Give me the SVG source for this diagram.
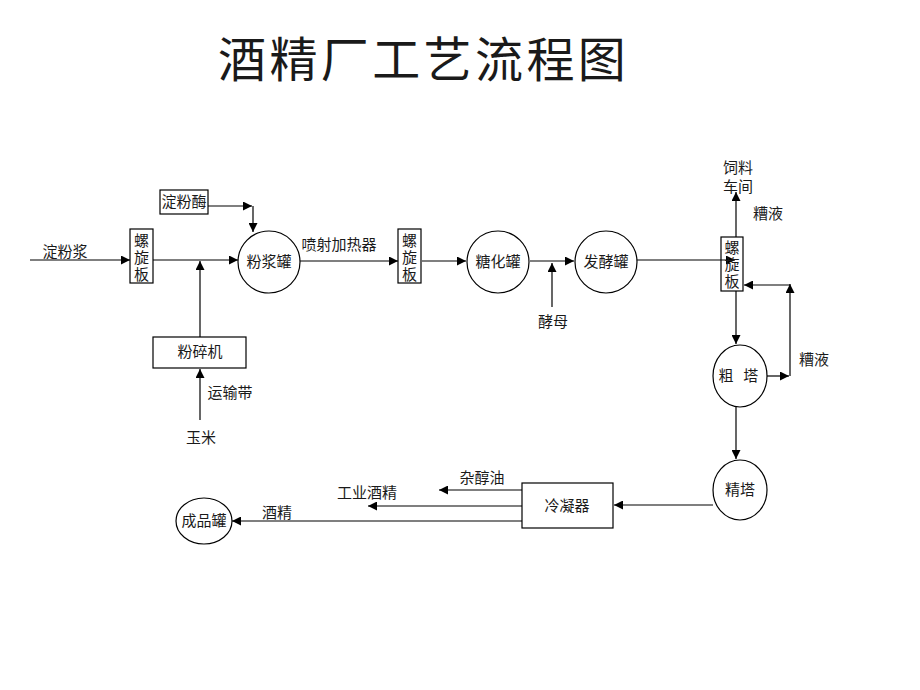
<svg xmlns="http://www.w3.org/2000/svg" width="920" height="690" viewBox="0 0 920 690">
<defs>
<marker id="ah" viewBox="0 0 10 10" refX="10" refY="5" markerWidth="9" markerHeight="9" markerUnits="userSpaceOnUse" orient="auto">
<path d="M0,0 L10,5 L0,10 Z" fill="#000"/>
</marker>
<style>
text{font-family:"Liberation Serif","Noto Sans CJK SC",serif;font-size:15px;fill:#1a1a1a;text-anchor:middle}
.title{font-size:48px;text-anchor:start;letter-spacing:3.4px}
.box{fill:#fff;stroke:#000;stroke-width:1.2}
.node{fill:#fff;stroke:#000;stroke-width:1.2}
.ln{fill:none;stroke:#000;stroke-width:1.2}
.arr{marker-end:url(#ah)}
</style>
</defs>
<rect width="920" height="690" fill="#fff"/>
<text class="title" x="218" y="77">酒精厂工艺流程图</text>

<g id="connectors">
<path class="ln arr" d="M30,260 H130"/>
<path class="ln arr" d="M153,260 H238"/>
<path class="ln arr" d="M200,337 V261"/>
<path class="ln arr" d="M200,420 V369"/>
<path class="ln arr" d="M208,206 H252"/>
<path class="ln arr" d="M253,206 V232"/>
<path class="ln arr" d="M300,261 H398"/>
<path class="ln arr" d="M422,261 H466"/>
<path class="ln arr" d="M530,261 H574"/>
<path class="ln arr" d="M552,307 V263"/>
<path class="ln arr" d="M637,260 H735"/>
<path class="ln arr" d="M736,237 V192"/>
<path class="ln arr" d="M736,291 V344"/>
<path class="ln arr" d="M767,376 H789"/>
<path class="ln arr" d="M790,376 V284"/>
<path class="ln arr" d="M790,285 H744"/>
<path class="ln arr" d="M736,406 V459"/>
<path class="ln arr" d="M713,505 H614"/>
<path class="ln arr" d="M522,490 H439"/>
<path class="ln arr" d="M522,506 H368"/>
<path class="ln arr" d="M522,521 H232"/>
</g>

<text x="65" y="257">淀粉浆</text>

<g id="screw1">
<rect class="box" x="130" y="229" width="23" height="54"/>
<text x="141.5" y="246">螺</text>
<text x="141.5" y="263">旋</text>
<text x="141.5" y="280">板</text>
</g>

<g id="amylase">
<rect class="box" x="160" y="190" width="48" height="24"/>
<text x="184" y="207">淀粉酶</text>
</g>

<g id="slurry-tank">
<circle class="node" cx="269" cy="262" r="31"/>
<text x="269" y="267">粉浆罐</text>
</g>

<g id="crusher">
<rect class="box" x="153" y="337" width="93" height="31"/>
<text x="200" y="357">粉碎机</text>
</g>
<text x="230" y="398">运输带</text>
<text x="201" y="443">玉米</text>

<text x="339" y="250">喷射加热器</text>

<g id="screw2">
<rect class="box" x="398" y="229" width="23" height="54"/>
<text x="409.5" y="246">螺</text>
<text x="409.5" y="263">旋</text>
<text x="409.5" y="280">板</text>
</g>

<g id="saccharify">
<circle class="node" cx="498" cy="262" r="31"/>
<text x="498" y="267">糖化罐</text>
</g>

<text x="553" y="327">酵母</text>

<g id="ferment">
<circle class="node" cx="606" cy="262" r="31"/>
<text x="606" y="267">发酵罐</text>
</g>

<g id="screw3">
<rect class="box" x="721" y="237" width="22" height="54" fill-opacity="0"/>
<text x="732" y="253">螺</text>
<text x="732" y="270">旋</text>
<text x="732" y="287">板</text>
</g>
<text x="738" y="173">饲料</text>
<text x="738" y="192">车间</text>
<text x="768" y="219">糟液</text>
<text x="814" y="365">糟液</text>

<g id="crude-tower">
<ellipse class="node" cx="740" cy="376" rx="27" ry="31"/>
<text x="740" y="381" letter-spacing="3">粗 塔</text>
</g>

<g id="fine-tower">
<ellipse class="node" cx="740" cy="490" rx="27" ry="30"/>
<text x="740" y="495">精塔</text>
</g>

<g id="condenser">
<rect class="box" x="522" y="483" width="91" height="45"/>
<text x="567" y="511">冷凝器</text>
</g>

<text x="482" y="483">杂醇油</text>
<text x="367" y="498">工业酒精</text>
<text x="277" y="518">酒精</text>

<g id="product-tank">
<ellipse class="node" cx="204" cy="521" rx="28" ry="23"/>
<text x="204" y="526">成品罐</text>
</g>
</svg>
